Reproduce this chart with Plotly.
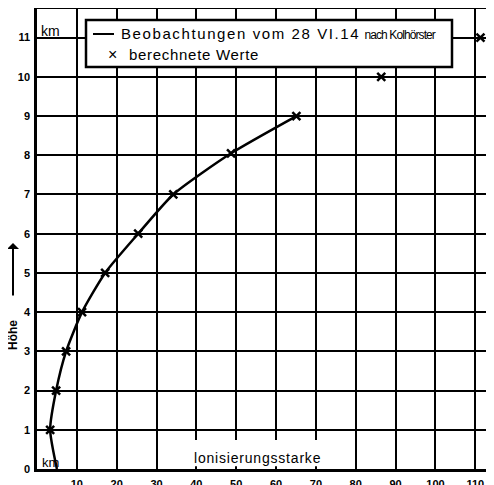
import plotly.graph_objects as go

# Observations (line) – height in km vs ionisation
obs_height = [0, 1, 2, 3, 4, 5, 6, 7, 8.05, 9]
obs_ion = [5.0, 3.3, 4.8, 7.3, 11.3, 17.1, 25.4, 34.2, 48.7, 65.1]

# Computed values (crosses)
calc_height = [1, 2, 3, 4, 5, 6, 7, 8.05, 9, 10, 11]
calc_ion = [3.3, 4.8, 7.3, 11.3, 17.1, 25.4, 34.2, 48.7, 65.1, 86.4, 111.3]

x_ticks = [10, 20, 30, 40, 50, 60, 70, 80, 90, 100, 110]
y_ticks = [0, 1, 2, 3, 4, 5, 6, 7, 8, 9, 10, 11]

OBS_LABEL = "Beobachtungen vom 28 VI.14"
OBS_LABEL_SMALL = "nach Kolhörster"
CALC_LABEL = "berechnete Werte"
X_TITLE = "lonisierungsstarke"
Y_TITLE = "Höhe"

FONT = "Liberation Sans"

# page offset compensation (body margin 8px)
W, H = 494, 485
L, T, B = 37, 9, 16   # desired plot area in window pixels: x 37..494, y 9..469


def px(xp):
    return (xp - L) / (W - L)


def py(yp):
    return (H - B - yp) / (H - B - T)


fig = go.Figure()
fig.add_trace(go.Scatter(
    x=obs_ion, y=obs_height, mode="lines",
    line=dict(color="black", width=2.5, shape="spline", smoothing=0.6),
    name=OBS_LABEL + " " + OBS_LABEL_SMALL, showlegend=False,
))
fig.add_trace(go.Scatter(
    x=calc_ion, y=calc_height, mode="markers",
    marker=dict(symbol="x-thin", size=8, line=dict(color="black", width=2.5), color="black"),
    name=CALC_LABEL, showlegend=False,
))

axis_common = dict(
    showgrid=True, gridcolor="black", gridwidth=2,
    showline=True, linecolor="black", linewidth=2.5, mirror=True,
    zeroline=False, automargin=False, ticks="",
    tickfont=dict(family=FONT, size=11, color="black", weight="bold"),
)

shapes = [
    # white gap behind x-axis title
    dict(type="rect", xref="x", yref="y", x0=34, x1=76, y0=0.07, y1=0.74,
         fillcolor="white", line=dict(width=0), layer="between"),
    # legend box
    dict(type="rect", xref="paper", yref="paper", x0=px(86), x1=px(452), y0=py(67), y1=py(20),
         fillcolor="white", line=dict(color="black", width=2.5), layer="above"),
    # legend line sample
    dict(type="line", xref="paper", yref="paper", x0=px(93), x1=px(114), y0=py(34), y1=py(34),
         line=dict(color="black", width=2), layer="above"),
]

annotations = [
    dict(text=("<span style='letter-spacing:1.6px'>" + OBS_LABEL + "</span> "
               "<span style='font-size:12px;letter-spacing:-0.9px'>" + OBS_LABEL_SMALL + "</span>"),
         x=px(119), y=py(33), xref="paper", yref="paper", xanchor="left", yanchor="middle",
         showarrow=False, font=dict(family=FONT, size=15, color="black")),
    dict(text="×", x=px(112), y=py(55), xref="paper", yref="paper",
         xanchor="center", yanchor="middle",
         showarrow=False, font=dict(family=FONT, size=16, color="black")),
    dict(text="<span style='letter-spacing:0.7px'>" + CALC_LABEL + "</span>",
         x=px(127), y=py(55), xref="paper", yref="paper", xanchor="left", yanchor="middle",
         showarrow=False, font=dict(family=FONT, size=15, color="black")),
    dict(text="<span style='letter-spacing:0.8px'>" + X_TITLE + "</span>", x=55.3, y=0.29,
         xref="x", yref="y", xanchor="center", yanchor="middle", showarrow=False,
         font=dict(family=FONT, size=14, color="black")),
    dict(text="km", x=0.4, y=11.17, xref="x", yref="y", xanchor="left", yanchor="middle",
         showarrow=False, font=dict(family=FONT, size=14, color="black")),
    dict(text="km", x=0.8, y=0.16, xref="x", yref="y", xanchor="left", yanchor="middle",
         showarrow=False, font=dict(family=FONT, size=13, color="black")),
    dict(text=Y_TITLE, x=px(13), y=py(335), xref="paper", yref="paper",
         xanchor="center", yanchor="middle", textangle=-90, showarrow=False,
         font=dict(family=FONT, size=12, color="black", weight="bold")),
    dict(text="", x=px(13), y=py(243), xref="paper", yref="paper",
         showarrow=True, ax=0, ay=54, arrowhead=1, arrowsize=1, arrowwidth=2,
         arrowcolor="black"),
]

fig.update_layout(
    width=W - 8, height=H - 8,
    margin=dict(l=L - 8, r=0, t=T - 8, b=B),
    paper_bgcolor="white", plot_bgcolor="white",
    showlegend=False,
    xaxis=dict(range=[0, 114.7], tickvals=x_ticks, ticklabelstandoff=3, **axis_common),
    yaxis=dict(range=[0, 11.73], tickvals=y_ticks, ticklabelstandoff=2, **axis_common),
    shapes=shapes,
    annotations=annotations,
)

fig.write_html("out.html")
